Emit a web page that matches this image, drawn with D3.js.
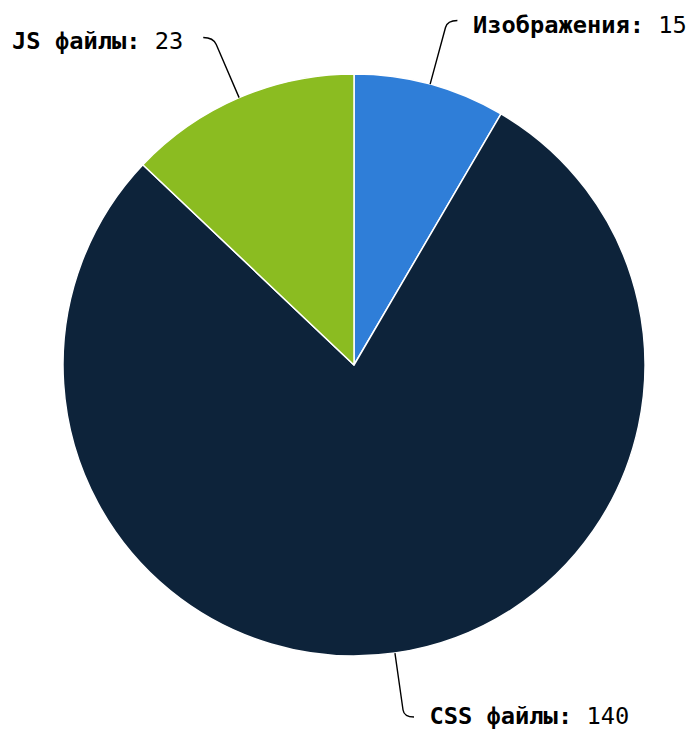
<!DOCTYPE html>
<html>
<head>
<meta charset="utf-8">
<script src="https://cdn.jsdelivr.net/npm/d3@7"></script>
<style>
  html, body { margin: 0; padding: 0; background: #fff; }
  svg { display: block; }
</style>
</head>
<body>
<svg id="chart" width="691" height="733"></svg>
<script>
// Data
const categories = ["Изображения", "CSS файлы", "JS файлы"];
const values = [15, 140, 23];
const colors = ["#2f7ed8", "#0d233a", "#8bbc21"];

// Layout (label vertical placement per slice)
const connectorY = [20.5, 717, 37.5];
const labelBaseline = [33, 724, 48.5];

const W = 691, H = 733;
const cx = 354, cy = 365, R = 291;

const svg = d3.select("#chart");
const g = svg.append("g").attr("transform", `translate(${cx},${cy})`);

const pie = d3.pie().sort(null).value(d => d.value).startAngle(0).endAngle(2 * Math.PI);
const data = categories.map((c, i) => ({ name: c, value: values[i], color: colors[i], i }));
const arcs = pie(data);

const arc = d3.arc().innerRadius(0).outerRadius(R);

g.selectAll("path.slice")
  .data(arcs)
  .join("path")
  .attr("class", "slice")
  .attr("d", arc)
  .attr("fill", d => d.data.color)
  .attr("stroke", "#ffffff")
  .attr("stroke-width", 1.5)
  .attr("stroke-linejoin", "round");

// Connectors and labels
arcs.forEach(a => {
  const mid = (a.startAngle + a.endAngle) / 2;
  const sx = Math.sin(mid), sy = -Math.cos(mid);
  const ex = sx * R, ey = sy * R;               // edge point
  const ty = connectorY[a.data.i] - cy;          // target y relative to center
  const t = ty / sy;                             // distance along radial to reach target y
  const kx = sx * t, ky = ty;                    // corner point
  const side = sx >= 0 ? 1 : -1;
  const endX = kx + side * 10;
  const bendT = (Math.abs(ty) - 7) / Math.abs(sy);
  const bx = sx * bendT, by = sy * bendT;
  const path = `M${ex},${ey}L${bx},${by}Q${kx},${ky} ${endX},${ky}`;
  g.append("path")
    .attr("d", path)
    .attr("fill", "none")
    .attr("stroke", "#000")
    .attr("stroke-width", 1.4);

  const lx = endX + side * (side > 0 ? 15.5 : 20);
  const text = g.append("text")
    .attr("x", lx)
    .attr("y", labelBaseline[a.data.i] - cy)
    .attr("text-anchor", side > 0 ? "start" : "end")
    .attr("font-family", "'DejaVu Sans Mono', monospace")
    .attr("font-size", "23.7px")
    .attr("fill", "#000");
  text.append("tspan").attr("font-weight", "bold").text(a.data.name + ":");
  text.append("tspan").text(" " + a.data.value);
});
</script>
</body>
</html>
